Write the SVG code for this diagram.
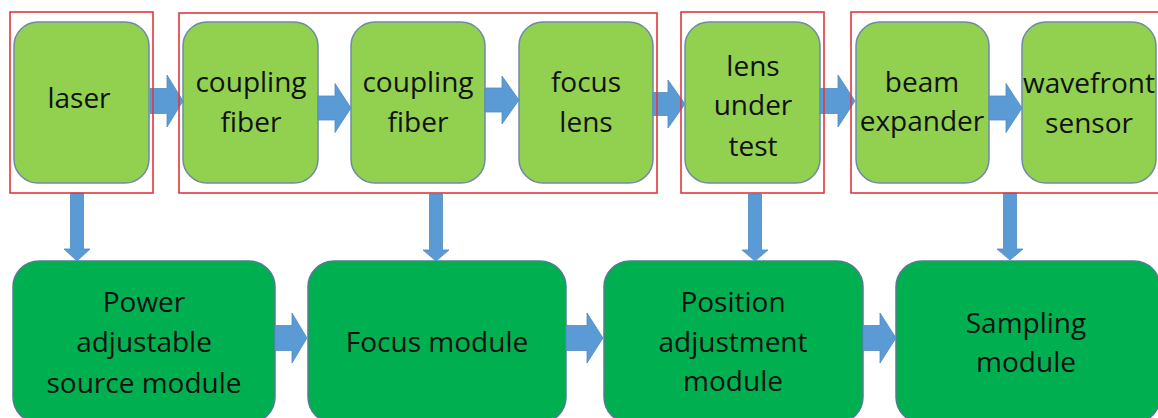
<svg xmlns="http://www.w3.org/2000/svg" width="1158" height="418" viewBox="0 0 1158 418">
<style>
.top{fill:#92d050;stroke:#6f8aa6;stroke-width:1.5}
.bot{fill:#00b050;stroke:#4f7f8f;stroke-width:1.5}
.grp{fill:none;stroke:#e2383c;stroke-width:1.6}
.arr{fill:#5b9bd5;stroke:#4f8ac4;stroke-width:0.8}
text{font-family:"Open Sans","Liberation Sans",sans-serif;font-size:28px;fill:#111;text-anchor:middle}
</style>
<rect width="1158" height="418" fill="#fff"/>
<g id="n-laser"><rect class="top" x="14" y="22" width="135" height="161" rx="24"/><text x="79" y="108">laser</text></g>
<g id="n-cf1"><rect class="top" x="183" y="22" width="135" height="161" rx="24"/><text x="251" y="92">coupling</text><text x="251" y="132">fiber</text></g>
<g id="n-cf2"><rect class="top" x="351" y="22" width="134" height="161" rx="24"/><text x="418" y="92">coupling</text><text x="418" y="132">fiber</text></g>
<g id="n-focuslens"><rect class="top" x="519" y="22" width="134" height="161" rx="24"/><text x="586" y="92">focus</text><text x="586" y="132">lens</text></g>
<g id="n-lut"><rect class="top" x="685" y="22" width="135" height="161" rx="24"/><text x="753" y="76">lens</text><text x="753" y="115">under</text><text x="753" y="156">test</text></g>
<g id="n-beam"><rect class="top" x="856" y="22" width="133" height="161" rx="24"/><text x="922" y="92">beam</text><text x="922" y="131">expander</text></g>
<g id="n-wave"><rect class="top" x="1022" y="22" width="134" height="161" rx="24"/><text x="1089" y="93">wavefront</text><text x="1089" y="133">sensor</text></g>
<g id="n-power"><rect class="bot" x="13" y="261" width="262" height="162" rx="26"/><text x="144" y="312">Power</text><text x="144" y="352">adjustable</text><text x="144" y="393">source module</text></g>
<g id="n-focusmod"><rect class="bot" x="308" y="261" width="258" height="162" rx="26"/><text x="437" y="352">Focus module</text></g>
<g id="n-position"><rect class="bot" x="604" y="261" width="259" height="162" rx="26"/><text x="733" y="312">Position</text><text x="733" y="352">adjustment</text><text x="733" y="391">module</text></g>
<g id="n-sampling"><rect class="bot" x="896" y="261" width="264" height="162" rx="26"/><text x="1026" y="333">Sampling</text><text x="1026" y="372">module</text></g>
<g id="connectors">
<path class="arr" d="M150,88.5 H167 V75 L183,101 L167,127 V113.5 H150 Z"/>
<path class="arr" d="M318,96 H335 V83.5 L351,108 L335,132.5 V120 H318 Z"/>
<path class="arr" d="M485,88 H502 V76 L519,100 L502,124 V112 H485 Z"/>
<path class="arr" d="M653,92.5 H668 V80 L685,104 L668,128 V115.5 H653 Z"/>
<path class="arr" d="M820,88.5 H838 V75 L855,101 L838,127 V113.5 H820 Z"/>
<path class="arr" d="M989,96 H1006 V83.5 L1022,108 L1006,132.5 V120 H989 Z"/>
<path class="arr" d="M275,325.5 H292 V313 L307,338 L292,363 V350.5 H275 Z"/>
<path class="arr" d="M566,325.5 H587 V313 L603,338 L587,363 V350.5 H566 Z"/>
<path class="arr" d="M863,325.5 H880 V313 L896,338 L880,363 V350.5 H863 Z"/>
<path class="arr" d="M70.5,193 H83.5 V249 H90 L77,261 L64,249 H70.5 Z"/>
<path class="arr" d="M429.5,194 H442.5 V250 H449 L436,261 L423,250 H429.5 Z"/>
<path class="arr" d="M748.5,194 H761.5 V250 H768 L755,261 L742,250 H748.5 Z"/>
<path class="arr" d="M1003.5,193 H1016.5 V249 H1023 L1010,260 L997,249 H1003.5 Z"/>
</g>
<g id="groups">
<rect class="grp" x="10" y="12" width="143" height="181"/>
<rect class="grp" x="179" y="13" width="478" height="180"/>
<rect class="grp" x="681" y="12" width="143" height="181"/>
<rect class="grp" x="851" y="12" width="320" height="181"/>
</g>
</svg>
